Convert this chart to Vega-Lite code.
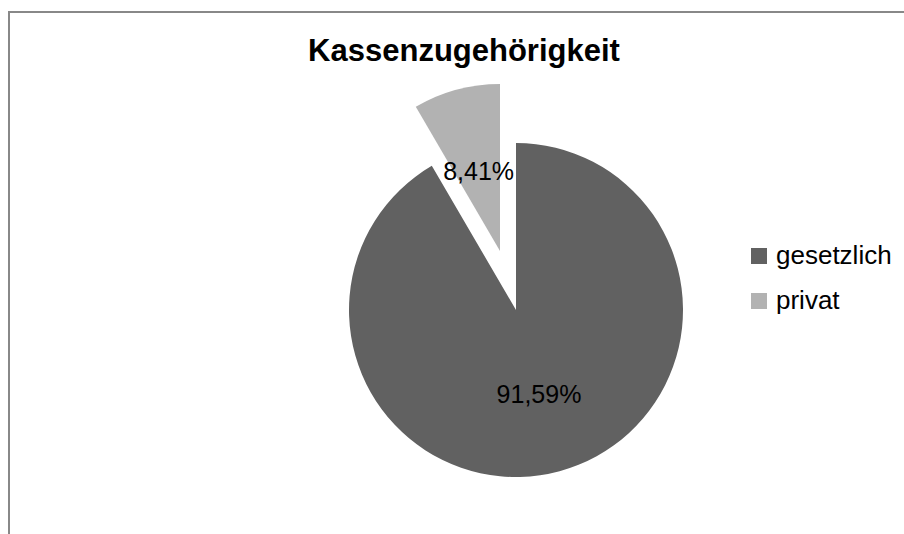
{
  "$schema": "https://vega.github.io/schema/vega-lite/v6.json",
  "width": 904,
  "height": 534,
  "autosize": "none",
  "padding": {"left": 9, "top": 12, "right": 0, "bottom": 0},
  "background": "white",
  "view": {"stroke": "#888888", "strokeWidth": 2, "fill": "white"},
  "title": {
    "text": "Kassenzugehörigkeit",
    "font": "Liberation Sans",
    "fontSize": 31,
    "fontWeight": "bold",
    "color": "#000000",
    "anchor": "middle",
    "frame": "group",
    "orient": "top",
    "baseline": "alphabetic",
    "offset": -80,
    "dx": 3
  },
  "config": {
    "view": {"stroke": "#888888", "strokeWidth": 2},
    "font": "Liberation Sans"
  },
  "data": {
    "values": [
      {"cat": "gesetzlich", "value": 91.59, "label": "91,59%"},
      {"cat": "privat", "value": 8.41, "label": "8,41%"}
    ]
  },
  "transform": [
    {"stack": "value", "groupby": [], "sort": [{"field": "cat", "order": "ascending"}], "as": ["v0", "v1"]}
  ],
  "layer": [
    {
      "transform": [{"filter": "datum.cat === 'gesetzlich'"}],
      "mark": {"type": "arc", "radius": 167, "x": 507, "y": 298, "strokeWidth": 0},
      "encoding": {
        "theta": {"field": "v0", "type": "quantitative", "scale": {"domain": [0, 100]}},
        "theta2": {"field": "v1"},
        "color": {
          "field": "cat",
          "type": "nominal",
          "scale": {"domain": ["gesetzlich", "privat"], "range": ["#616161", "#b2b2b2"]},
          "legend": {
            "title": null,
            "orient": "none",
            "legendX": 737,
            "legendY": 231,
            "padding": 0,
            "symbolType": "square",
            "symbolSize": 256,
            "symbolStrokeWidth": 0,
            "symbolOpacity": 1,
            "labelFont": "Liberation Sans",
            "labelFontSize": 26,
            "labelColor": "#000000",
            "labelOffset": 4,
            "rowPadding": 19
          }
        }
      }
    },
    {
      "transform": [{"filter": "datum.cat === 'privat'"}],
      "mark": {"type": "arc", "radius": 167, "x": 507, "y": 298, "xOffset": -16, "yOffset": -59, "strokeWidth": 0},
      "encoding": {
        "theta": {"field": "v0", "type": "quantitative", "scale": {"domain": [0, 100]}},
        "theta2": {"field": "v1"},
        "color": {"field": "cat", "type": "nominal"}
      }
    },
    {
      "mark": {"type": "text", "radius": 88, "x": 507, "y": 298, "fontSize": 25, "font": "Liberation Sans", "color": "#000000"},
      "encoding": {
        "theta": {"field": "value", "type": "quantitative", "stack": true},
        "order": {"field": "cat", "sort": "ascending"},
        "detail": {"field": "cat"},
        "text": {"condition": {"test": "datum.cat === 'gesetzlich'", "field": "label"}, "value": ""}
      }
    },
    {
      "mark": {"type": "text", "radius": 82, "x": 507, "y": 298, "xOffset": -16, "yOffset": -59, "fontSize": 25, "font": "Liberation Sans", "color": "#000000"},
      "encoding": {
        "theta": {"field": "value", "type": "quantitative", "stack": true},
        "order": {"field": "cat", "sort": "ascending"},
        "detail": {"field": "cat"},
        "text": {"condition": {"test": "datum.cat === 'privat'", "field": "label"}, "value": ""}
      }
    }
  ]
}
